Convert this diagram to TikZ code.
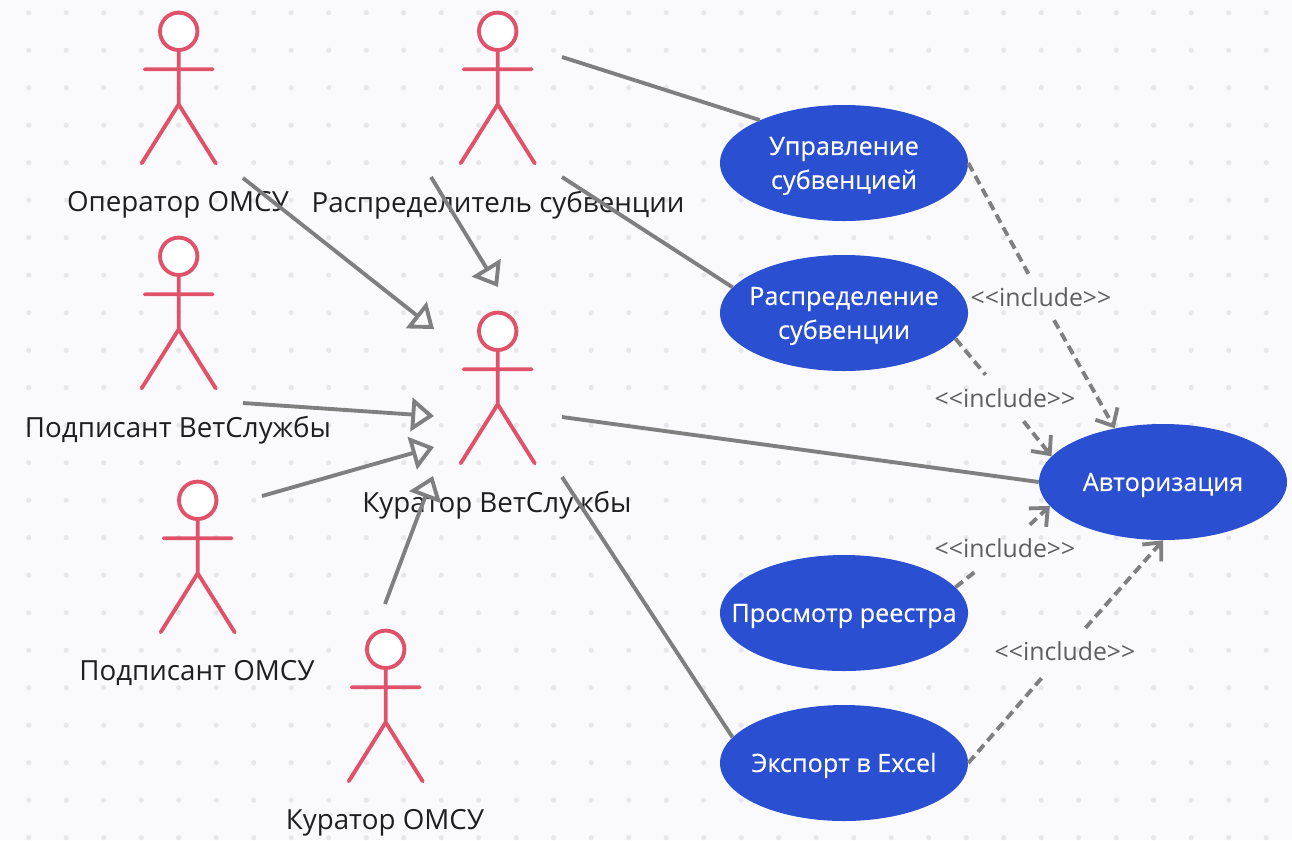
\documentclass[tikz,border=0pt]{standalone}
\usepackage{fontspec}
\setmainfont{Open Sans}
\usetikzlibrary{arrows.meta,shapes.geometric}

\definecolor{bgcol}{HTML}{FAFAFD}
\definecolor{dotcol}{HTML}{E7E7EA}
\definecolor{actorcol}{HTML}{E0526A}
\definecolor{casecol}{HTML}{2B4FD1}
\definecolor{linecol}{HTML}{7F7F7F}
\definecolor{labelcol}{HTML}{5E5E5E}

\tikzset{
  actor/.pic={
    \draw[actorcol,line width=2.9pt,line cap=round,fill=white] (0,0) circle (18.7);
    \draw[actorcol,line width=2.9pt,line cap=round] (0,18.7) -- (0,73) (-34,38) -- (34,38)
      (-37,132) -- (0,73) -- (37,132);
  },
  actorname/.style={font=\fontsize{20.8pt}{25pt}\selectfont,text=black!88},
  usecase/.style={ellipse,fill=casecol,text=white,minimum width=186pt,minimum height=87pt,
    inner xsep=-25pt,inner ysep=0pt,text height=18pt,
    align=center,font=\fontsize{18.9pt}{25.5pt}\selectfont\addfontfeature{FakeBold=0.25}},
  twolines/.style={usecase,text height=43.5pt},
  inherit/.style={draw=linecol,line width=2.9pt,-{Triangle[length=17pt,width=25pt,fill=bgcol,line width=2.9pt]}},
  assoc/.style={draw=linecol,line width=2.9pt},
  incldash/.style={draw=linecol,line width=2.9pt,dash pattern=on 7pt off 4pt},
  incl/.style={incldash,-{Straight Barb[length=10.5pt,width=19pt,line width=2.9pt]}},
  incltext/.style={text=labelcol,inner sep=0pt,minimum height=34.5pt,font=\fontsize{18.6pt}{22pt}\selectfont},
}

\begin{document}
\begin{tikzpicture}[x=0.75pt,y=-0.75pt]

\fill[bgcol] (0,0) rectangle (1292,840);
\useasboundingbox (0,0) rectangle (1292,840);

\foreach \i in {0,...,33}
    \foreach \j in {0,...,22}
        \fill[dotcol] (28.7+37.5*\i,12.7+37.5*\j) circle (2.6);

% actors
\foreach \x/\y in {178.7/31.3,497.7/31.3,178.7/256.3,497.7/331.3,197.7/500.3,385.7/649.3}
    \pic at (\x,\y) {actor};

\node[actorname] (operlabel) at (178,205) {Оператор ОМСУ};
\node[actorname] (distlabel) at (498,205) {Распределитель субвенции};
\node[actorname] (vetlabel) at (178,430) {Подписант ВетСлужбы};
\node[actorname] (curlabel) at (497,505) {Куратор ВетСлужбы};
\node[actorname] (signlabel) at (197,673) {Подписант ОМСУ};
\node[actorname] (omsulabel) at (385,823) {Куратор ОМСУ};

% use cases
\node[twolines] (manage) at (844,163) {Управление\\субвенцией};
\node[twolines] (distrib) at (844,313) {Распределение\\субвенции};
\node[usecase] (auth) at (1163,482) {Авторизация};
\node[usecase] (view) at (844,613) {Просмотр реестра};
\node[usecase] (export) at (844,763) {Экспорт в Excel};

% labels of the dashed lines
\node[incltext] (inclA) at (1041,297) {<{}<include>{}>};
\node[incltext] (inclB) at (1005,398) {<{}<include>{}>};
\node[incltext] (inclC) at (1005,548) {<{}<include>{}>};
\node[incltext] (inclD) at (1065,651) {<{}<include>{}>};

% free ends next to the actors
\coordinate (oper) at (243,178);
\coordinate (distA) at (431,177);
\coordinate (distB) at (562,57);
\coordinate (distC) at (562,177);
\coordinate (vet) at (243,403);
\coordinate (sign) at (262,496);
\coordinate (omsu) at (385,604);
\coordinate (curA) at (562,417);
\coordinate (curB) at (562,477);
\coordinate (curtipA) at (434,329);
\coordinate (curtipB) at (498,287);
\coordinate (curtipC) at (434,416);
\coordinate (curtipD) at (434,447);
\coordinate (curtipE) at (433,476);

\draw[inherit] (oper) -- (curtipA);
\draw[inherit] (distA) -- (curtipB);
\draw[inherit] (vet) -- (curtipC);
\draw[inherit] (sign) -- (curtipD);
\draw[inherit] (omsu) -- (curtipE);

\draw[assoc] (distB) -- (manage.153);
\draw[assoc] (distC) -- (distrib.167);
\draw[assoc] (curA) -- (auth.west);
\draw[assoc] (curB) -- (export.167);

\draw[incldash] (manage.east) -- (inclA);
\draw[incl] (inclA) -- (auth.132);
\draw[incldash] (distrib.347) -- (inclB);
\draw[incl] (inclB) -- (auth.167);
\draw[incldash] (view.13) -- (inclC);
\draw[incl] (inclC) -- (auth.192);
\draw[incldash] (export.east) -- (inclD);
\draw[incl] (inclD) -- (auth.south);

\end{tikzpicture}
\end{document}
